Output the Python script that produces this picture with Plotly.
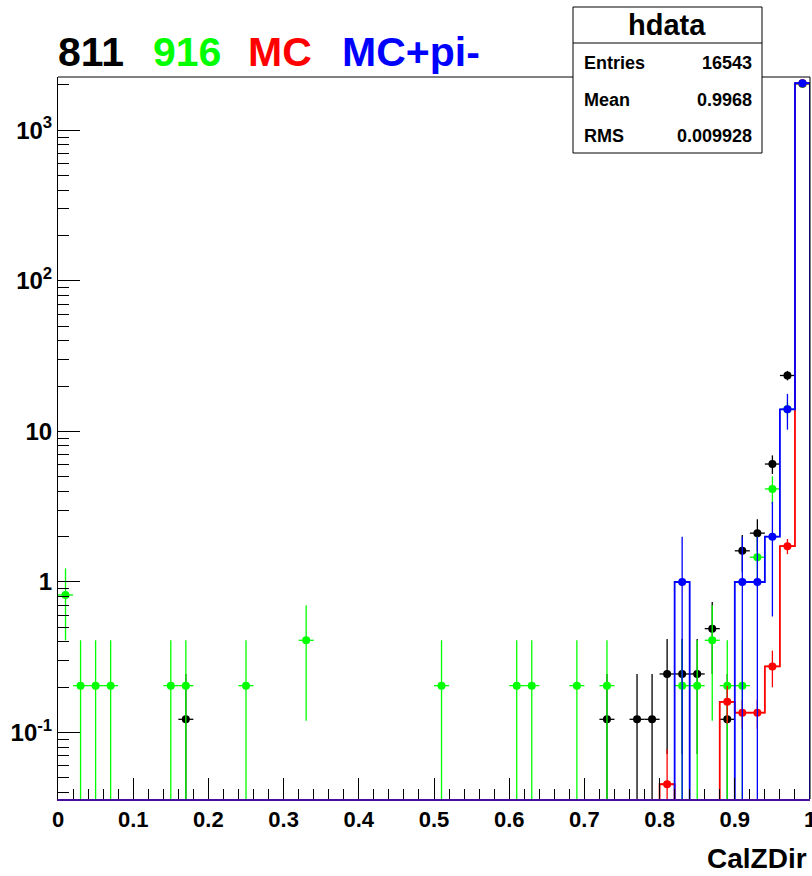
import plotly.graph_objects as go

# ---------------- data ----------------
BIN_EDGES_N = 50          # 50 bins of width 0.02 on [0, 1]
BIN_W = 0.02

# "811" data (black points)
d811_x = [0.17, 0.73, 0.77, 0.79, 0.81, 0.83, 0.85, 0.87, 0.89, 0.91, 0.93, 0.95, 0.97, 0.99]
d811_y = [0.1225, 0.1225, 0.1225, 0.1225, 0.245, 0.245, 0.245, 0.49, 0.1225, 1.61, 2.11, 6.07, 23.5, 2030]
d811_e = [0.1225, 0.1225, 0.1225, 0.1225, 0.173, 0.173, 0.173, 0.245, 0.1225, 0.44, 0.5, 0.86, 1.7, 45]

# "916" data (green points)
d916_x = [0.01, 0.03, 0.05, 0.07, 0.15, 0.17, 0.25, 0.33, 0.51, 0.61, 0.63, 0.69, 0.73,
          0.83, 0.85, 0.87, 0.89, 0.91, 0.93, 0.95, 0.97, 0.99]
d916_y = [0.82, 0.205, 0.205, 0.205, 0.205, 0.205, 0.205, 0.41, 0.205, 0.205, 0.205, 0.205, 0.205,
          0.205, 0.205, 0.41, 0.205, 0.205, 1.46, 4.15, 14.0, 2040]
d916_e = [0.41, 0.205, 0.205, 0.205, 0.205, 0.205, 0.205, 0.29, 0.205, 0.205, 0.205, 0.205, 0.205,
          0.205, 0.205, 0.29, 0.205, 0.205, 0.54, 0.88, 1.7, 20]

# "MC" (red histogram)
mc_x = [0.81, 0.89, 0.91, 0.93, 0.95, 0.97, 0.99]
mc_y = [0.0454, 0.16, 0.1355, 0.1355, 0.275, 1.73, 2045]
mc_e = [0.032, 0.045, 0.03, 0.03, 0.075, 0.2, 20]

# "MC+pi-" (blue histogram)
mcpi_x = [0.83, 0.91, 0.93, 0.95, 0.97, 0.99]
mcpi_y = [1.0, 1.0, 1.0, 2.0, 14.0, 2050]
mcpi_e = [1.0, 1.0, 1.0, 1.41, 3.74, 45]

x_ticks = [0, 0.1, 0.2, 0.3, 0.4, 0.5, 0.6, 0.7, 0.8, 0.9, 1.0]
x_ticktext = ["0", "0.1", "0.2", "0.3", "0.4", "0.5", "0.6", "0.7", "0.8", "0.9", "1"]
y_ticks = [0.1, 1, 10, 100, 1000]
y_ticktext = ["10<sup>-1</sup>", "1", "10", "10<sup>2</sup>", "10<sup>3</sup>"]

stats_labels = ["Entries", "Mean", "RMS"]
stats_values = ["16543", "0.9968", "0.009928"]

BLACK, GREEN, RED, BLUE = "#000000", "#00ff00", "#ff0000", "#0000ff"
INDIGO = "#4a0e9e"
FONT = "Liberation Sans, Arial, Helvetica, sans-serif"
ZERO_FLOOR = 1e-4  # zero bins drawn below the visible log range


def step_path(xs, ys):
    """Build a ROOT-style step outline over all bins from sparse (centre, value) pairs."""
    vals = {round(x, 2): y for x, y in zip(xs, ys)}
    px, py = [], []
    for i in range(BIN_EDGES_N):
        lo = round(i * BIN_W, 2)
        c = round(lo + BIN_W / 2, 2)
        v = vals.get(c, 0) or ZERO_FLOOR
        px += [lo, round(lo + BIN_W, 2)]
        py += [v, v]
    return [0] + px + [1.0], [ZERO_FLOOR] + py + [ZERO_FLOOR]


def points(xs, ys, es, color, name):
    return go.Scatter(
        x=xs, y=ys, mode="markers", name=name,
        marker=dict(color=color, size=8, symbol="circle"),
        error_y=dict(type="data", array=es, arrayminus=[min(e, y) for e, y in zip(es, ys)],
                     color=color, thickness=1.3, width=0),
        error_x=dict(type="constant", value=BIN_W / 2, color=color, thickness=1.3, width=0),
        showlegend=False, cliponaxis=True,
    )


fig = go.Figure()

# black data first, then green, then red and blue histograms on top
fig.add_trace(points(d811_x, d811_y, d811_e, BLACK, "811"))
fig.add_trace(points(d916_x, d916_y, d916_e, GREEN, "916"))

rx, ry = step_path(mc_x, mc_y)
fig.add_trace(go.Scatter(x=rx, y=ry, mode="lines", line=dict(color=RED, width=1.8),
                         showlegend=False, hoverinfo="skip"))
fig.add_trace(points(mc_x, mc_y, mc_e, RED, "MC"))

bx, by = step_path(mcpi_x, mcpi_y)
fig.add_trace(go.Scatter(x=bx, y=by, mode="lines", line=dict(color=BLUE, width=1.8),
                         showlegend=False, hoverinfo="skip"))
fig.add_trace(points(mcpi_x, mcpi_y, mcpi_e, BLUE, "MC+pi-"))

xtickfont = dict(family=FONT, size=22, color="black", weight="bold")
ytickfont = dict(family=FONT, size=24, color="black", weight="bold")

fig.update_layout(
    width=812, height=876,
    margin=dict(l=58, r=2, t=77, b=77, autoexpand=False),
    paper_bgcolor="white", plot_bgcolor="white",
    showlegend=False,
    xaxis=dict(
        range=[0, 1], showgrid=False, zeroline=False, automargin=False,
        showline=True, linecolor=INDIGO, linewidth=2,
        ticks="inside", ticklen=21, tickcolor="black", tickwidth=1,
        tickvals=x_ticks, ticktext=x_ticktext, tickfont=xtickfont,
        ticklabeloverflow="allow",
        minor=dict(ticks="inside", ticklen=10, tickcolor="black", tickwidth=1,
                   dtick=0.02, showgrid=False),
    ),
    yaxis=dict(
        type="log", range=[-1.441, 3.353], showgrid=False, zeroline=False, automargin=False,
        showline=True, linecolor="black", linewidth=1,
        ticks="inside", ticklen=22, tickcolor="black", tickwidth=1,
        tickvals=y_ticks, ticktext=y_ticktext, tickfont=ytickfont,
        ticklabeloverflow="allow",
        minor=dict(ticks="inside", ticklen=11, tickcolor="black", tickwidth=1,
                   tickvals=[m * 10 ** k for k in range(-2, 4) for m in range(2, 10)],
                   showgrid=False),
    ),
)

# frame (top and right)
fig.add_shape(type="line", xref="paper", yref="paper", x0=0, x1=1, y0=1, y1=1,
              line=dict(color="black", width=1), layer="above")
fig.add_shape(type="line", xref="paper", yref="paper", x0=1, x1=1, y0=0, y1=1,
              line=dict(color="black", width=1), layer="above")

# helpers: page pixel -> paper coordinate (plot area spans x 58..810, y 77..799)
PW, PH, L, B = 752.0, 722.0, 58.0, 799.0
def px2x(p):
    return (p - L) / PW
def py2y(p):
    return (B - p) / PH

# stats box
fig.add_shape(type="rect", xref="paper", yref="paper",
              x0=px2x(573), x1=px2x(762), y0=py2y(153), y1=py2y(7),
              line=dict(color="black", width=1), fillcolor="white", layer="above")
fig.add_shape(type="line", xref="paper", yref="paper",
              x0=px2x(573), x1=px2x(762), y0=py2y(43), y1=py2y(43),
              line=dict(color="black", width=1), layer="above")
fig.add_annotation(text="hdata", xref="paper", yref="paper", x=px2x(667), y=py2y(25),
                   xanchor="center", yanchor="middle", showarrow=False,
                   font=dict(family=FONT, size=29, color="black", weight="bold"))
for lab, val, yy in zip(stats_labels, stats_values, [63, 100, 136]):
    fig.add_annotation(text=lab, xref="paper", yref="paper", x=px2x(582), y=py2y(yy),
                       xanchor="left", yanchor="middle", showarrow=False,
                       font=dict(family=FONT, size=18, color="black", weight="bold"))
    fig.add_annotation(text=val, xref="paper", yref="paper", x=px2x(754), y=py2y(yy),
                       xanchor="right", yanchor="middle", showarrow=False,
                       font=dict(family=FONT, size=18, color="black", weight="bold"))

# coloured title pieces
for txt, col, left in [("811", BLACK, 56), ("916", GREEN, 151), ("MC", RED, 246), ("MC+pi-", BLUE, 340)]:
    fig.add_annotation(text=txt, xref="paper", yref="paper", x=px2x(left), y=py2y(52),
                       xanchor="left", yanchor="middle", showarrow=False,
                       font=dict(family=FONT, size=41, color=col, weight="bold"))

# x-axis title
fig.add_annotation(text="CalZDir", xref="paper", yref="paper", x=px2x(809), y=py2y(858),
                   xanchor="right", yanchor="middle", showarrow=False,
                   font=dict(family=FONT, size=28, color="black", weight="bold"))

# remove the page's default body margin so the 812x876 figure fills the window exactly
fig.write_html(
    "out.html",
    config={"displayModeBar": False},
    post_script="document.body.style.margin='0';document.body.style.overflow='hidden';",
)
